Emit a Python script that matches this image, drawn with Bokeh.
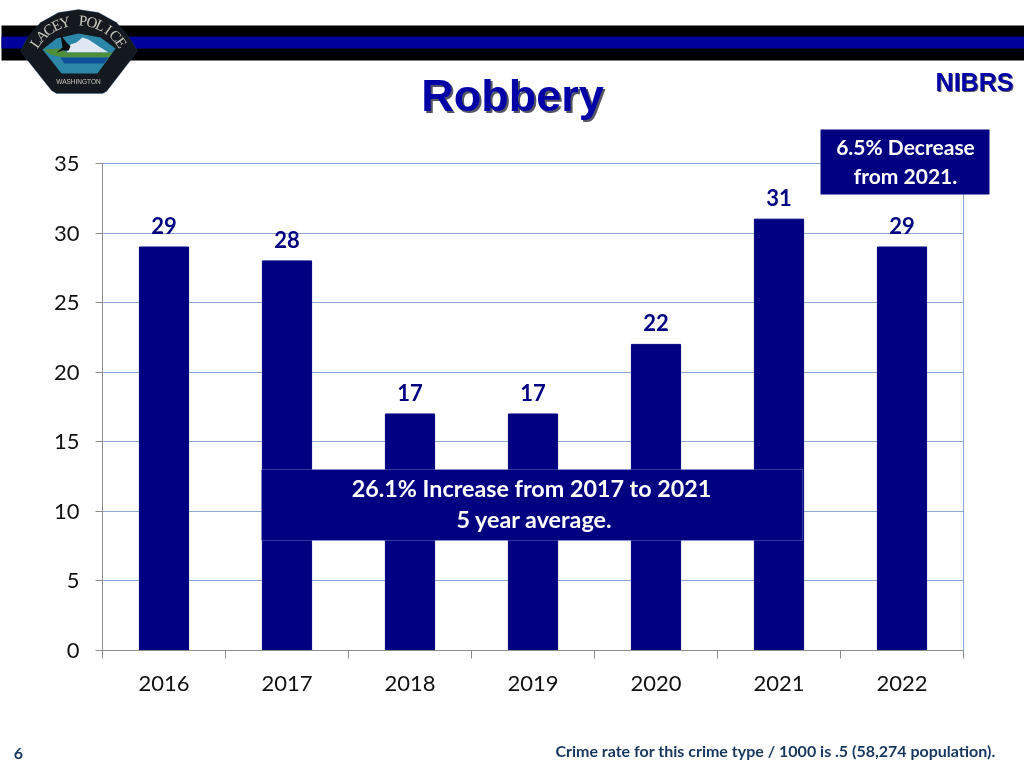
import math
from bokeh.plotting import figure
from bokeh.embed import file_html
from bokeh.resources import INLINE
from bokeh.models import (Range1d, FixedTicker, LinearAxis, BoxAnnotation, Label,
                          PolyAnnotation, Grid)
from bokeh.core.properties import value

years = ["2016", "2017", "2018", "2019", "2020", "2021", "2022"]
robberies = [29, 28, 17, 17, 22, 31, 29]
y_ticks = [0, 5, 10, 15, 20, 25, 30, 35]

NAVY = "#000080"
GRID = "#8aa8d0"
AXIS = "#8c8c8c"
BODY = "Lato"
PIN = {"position": "fixed", "left": "0", "top": "0"}

p = figure(width=1024, height=768, output_backend="svg", toolbar_location=None,
           x_range=Range1d(0, len(years)), y_range=Range1d(0, 35),
           x_axis_type=None, y_axis_type=None,
           min_border_left=102, min_border_right=61, min_border_top=163, min_border_bottom=118)
p.styles = PIN
p.outline_line_color = GRID
p.outline_line_width = 1
p.background_fill_color = "white"

xs = [i + 0.5 for i in range(len(years))]

xaxis = LinearAxis(ticker=FixedTicker(ticks=xs, minor_ticks=list(range(len(years) + 1))),
                   major_label_overrides={x: y for x, y in zip(xs, years)})
xaxis.axis_line_color = AXIS
xaxis.major_tick_line_color = None
xaxis.minor_tick_line_color = AXIS
xaxis.minor_tick_out = 8
xaxis.minor_tick_in = 0
xaxis.major_label_text_font = BODY
xaxis.major_label_text_font_size = "22px"
xaxis.major_label_text_color = "#111111"
xaxis.major_label_standoff = 17
p.add_layout(xaxis, "below")

yaxis = LinearAxis(ticker=FixedTicker(ticks=y_ticks))
yaxis.axis_line_color = AXIS
yaxis.major_tick_line_color = AXIS
yaxis.major_tick_out = 7
yaxis.major_tick_in = 0
yaxis.minor_tick_line_color = None
yaxis.major_label_text_font = BODY
yaxis.major_label_text_font_size = "22px"
yaxis.major_label_text_color = "#111111"
yaxis.major_label_standoff = 16
p.add_layout(yaxis, "left")

p.add_layout(Grid(dimension=1, ticker=yaxis.ticker, grid_line_color=GRID, grid_line_width=1))

p.vbar(x=xs, top=robberies, bottom=0, width=0.4, fill_color=NAVY, line_color=NAVY)
p.text(x=xs, y=robberies, text=[str(v) for v in robberies], text_align="center",
       text_baseline="bottom", y_offset=-13, text_color=NAVY, text_font=value(BODY),
       text_font_style="bold", text_font_size="22px")

# transparent page-sized layer for everything that sits outside the plot frame
d = figure(width=1024, height=768, output_backend="svg", toolbar_location=None,
           x_range=Range1d(0, 1024), y_range=Range1d(768, 0),
           x_axis_type=None, y_axis_type=None,
           min_border_left=0, min_border_right=0, min_border_top=0, min_border_bottom=0)
d.styles = PIN
d.outline_line_color = None
d.background_fill_color = None
d.border_fill_color = None


def box(l, t, r, b, fill, line=None, w=1):
    d.add_layout(BoxAnnotation(left=l, right=r, top=t, bottom=b, left_units="canvas",
                               right_units="canvas", top_units="canvas", bottom_units="canvas",
                               fill_color=fill, fill_alpha=1, line_color=line, line_width=w,
                               level="annotation"))


def label(x, y, text, size, color, font=BODY, style="bold", align="center", angle=0, base="middle"):
    d.add_layout(Label(x=x, y=y, x_units="canvas", y_units="canvas", text=text,
                       text_font=font, text_font_size=f"{size}px", text_font_style=style,
                       text_color=color, text_align=align, text_baseline=base,
                       angle=angle, angle_units="deg", level="annotation"))


def poly(pts, fill, line=None):
    d.add_layout(PolyAnnotation(xs=[a for a, _ in pts], ys=[b for _, b in pts],
                                xs_units="canvas", ys_units="canvas", fill_color=fill,
                                fill_alpha=1, line_color=line, line_width=1, level="annotation"))


# header band
box(1, 25, 1024, 60, "#000000")
box(1, 36, 1024, 48, "#00009c")

# logo
poly([(20, 50), (27, 37), (40, 22), (58, 12), (78, 9), (98, 12), (116, 22), (129, 37), (137, 50),
      (133, 56), (106, 91), (102, 93), (56, 93), (51, 90), (24, 56)], "#14191f", "#1d4f86")
poly([(42, 49), (56, 38), (78, 33), (100, 37), (115, 48), (97, 73), (61, 73)], "#2b86a8")
poly([(66, 52), (70, 44), (76, 42), (82, 37), (88, 39), (94, 43), (100, 47), (108, 52)], "#dfe8f2")
poly([(43, 49), (60, 48), (66, 52), (112, 52), (108, 57), (62, 57), (50, 54)], "#4f8f3c")
poly([(60, 57), (108, 57), (103, 63), (64, 63)], "#0f4f9c")
poly([(60, 34), (66, 42), (70, 46), (68, 50), (62, 50), (56, 52), (62, 47)], "#0a0a0a")
logo_text = "LACEY POLICE"
for i, ch in enumerate(logo_text):
    a = -55 + i * 110 / (len(logo_text) - 1)
    r = 52
    label(78 + r * math.sin(math.radians(a)), 72 - r * math.cos(math.radians(a)), ch, 15,
          "#c9c9c0", font="Liberation Serif", style="normal", angle=-a)
label(78, 81, "WASHINGTON", 6.5, "#c9c9c0", font="Liberation Sans", style="normal")

# headings
label(514, 97, "Robbery", 45, "#555566", font="Liberation Sans")
label(512, 95, "Robbery", 45, "#0000a6", font="Liberation Sans")
label(975, 82, "NIBRS", 25, "#555566", font="Liberation Sans")
label(974, 81, "NIBRS", 25, "#0000a6", font="Liberation Sans")

# call-outs
box(820, 129, 989, 194, NAVY)
label(905, 146, "6.5% Decrease", 21, "white")
label(905, 175, "from 2021.", 21, "white")
box(261, 469, 802, 540, NAVY, "#a9b8e8")
label(531, 487, "26.1% Increase from 2017 to 2021", 23.3, "white")
label(534, 518, "5 year average.", 23.3, "white")

# footer
label(18, 753, "6", 16, "#17375e")
label(775, 750, "Crime rate for this crime type / 1000 is .5 (58,274 population).", 16, "#17375e")

open("out.html", "w").write(file_html([p, d], INLINE))
